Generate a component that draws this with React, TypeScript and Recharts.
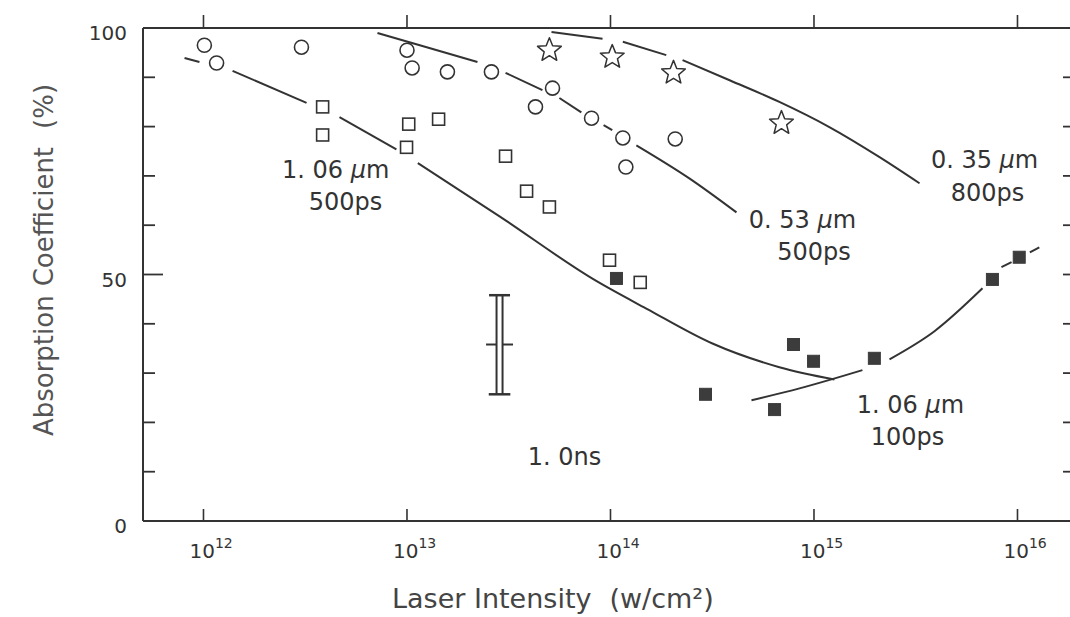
import React from 'react';
import { ComposedChart, Line, Scatter, XAxis, YAxis, ReferenceLine } from 'recharts';

// intensity in W/cm², absorption coefficient in %
const openCircles = [
  { x: 1.01e12, y: 96.5 }, { x: 1.16e12, y: 92.9 }, { x: 3.03e12, y: 96.1 },
  { x: 1.0e13, y: 95.5 }, { x: 1.06e13, y: 91.9 }, { x: 1.58e13, y: 91.1 },
  { x: 2.6e13, y: 91.1 }, { x: 5.19e13, y: 87.8 }, { x: 4.28e13, y: 84.0 },
  { x: 8.07e13, y: 81.7 }, { x: 1.15e14, y: 77.7 }, { x: 1.19e14, y: 71.8 },
  { x: 2.08e14, y: 77.5 },
];
const stars = [
  { x: 5.01e13, y: 95.5 }, { x: 1.02e14, y: 94.1 }, { x: 2.04e14, y: 90.9 }, { x: 6.92e14, y: 80.7 },
];
const openSquares = [
  { x: 3.85e12, y: 84.0 }, { x: 3.85e12, y: 78.3 }, { x: 1.02e13, y: 80.5 },
  { x: 1.43e13, y: 81.5 }, { x: 9.95e12, y: 75.8 }, { x: 3.05e13, y: 74.0 },
  { x: 3.87e13, y: 66.9 }, { x: 5.01e13, y: 63.7 }, { x: 9.89e13, y: 52.9 },
  { x: 1.4e14, y: 48.4 },
];
const filledSquares = [
  { x: 1.07e14, y: 49.2 }, { x: 2.93e14, y: 25.7 }, { x: 6.4e14, y: 22.6 },
  { x: 7.93e14, y: 35.8 }, { x: 9.95e14, y: 32.4 }, { x: 1.98e15, y: 33.0 },
  { x: 7.53e15, y: 49.0 }, { x: 1.02e16, y: 53.5 },
];

// fitted curves, broken where they pass the markers
const curve106_500ps = [
  [{ x: 8.07e11, y: 93.9 }, { x: 9.55e11, y: 93.1 }],
  [{ x: 1.39e12, y: 91.3 }, { x: 3.21e12, y: 84.8 }],
  [{ x: 4.66e12, y: 81.9 }, { x: 8.87e12, y: 75.4 }],
  [
    { x: 1.13e13, y: 72.6 }, { x: 2.85e13, y: 61.8 }, { x: 8.43e13, y: 48.8 },
    { x: 1.5e14, y: 43.1 }, { x: 3.17e14, y: 36.0 }, { x: 6.76e14, y: 31.2 },
    { x: 1.26e15, y: 28.7 },
  ],
];
const curve053_500ps = [
  [{ x: 7.16e12, y: 99.0 }, { x: 1.25e13, y: 96.1 }, { x: 2.22e13, y: 93.1 }],
  [{ x: 3.05e13, y: 90.9 }, { x: 4.63e13, y: 87.4 }],
  [{ x: 5.61e13, y: 85.8 }, { x: 7.19e13, y: 82.9 }],
  [{ x: 9.25e13, y: 80.3 }, { x: 1.02e14, y: 79.3 }],
  [{ x: 1.34e14, y: 76.2 }, { x: 2.44e14, y: 69.5 }, { x: 4.16e14, y: 62.6 }],
];
const curve035_800ps = [
  [{ x: 5.13e13, y: 99.2 }, { x: 9.14e13, y: 97.8 }],
  [{ x: 1.15e14, y: 97.2 }, { x: 1.88e14, y: 94.5 }],
  [
    { x: 2.26e14, y: 93.5 }, { x: 3.85e14, y: 89.4 }, { x: 6.76e14, y: 85.0 },
    { x: 1.19e15, y: 79.9 }, { x: 2.1e15, y: 73.8 }, { x: 3.3e15, y: 68.5 },
  ],
];
const curve106_100ps = [
  [{ x: 4.93e14, y: 24.5 }, { x: 8.49e14, y: 26.9 }, { x: 1.73e15, y: 30.6 }],
  [{ x: 2.35e15, y: 32.8 }, { x: 3.91e15, y: 38.5 }, { x: 6.73e15, y: 47.2 }],
  [{ x: 8.34e15, y: 51.5 }, { x: 9.35e15, y: 52.5 }],
  [{ x: 1.15e16, y: 54.5 }, { x: 1.28e16, y: 55.5 }],
];

const notes = [
  { x: 4.46e12, y: 71.2, text: '1. 06 μm' },
  { x: 4.99e12, y: 64.7, text: '500ps' },
  { x: 8.77e14, y: 61.0, text: '0. 53 μm' },
  { x: 1.0e15, y: 54.5, text: '500ps' },
  { x: 6.89e15, y: 73.2, text: '0. 35 μm' },
  { x: 7.13e15, y: 66.5, text: '800ps' },
  { x: 2.98e15, y: 23.5, text: '1. 06 μm' },
  { x: 2.88e15, y: 17.0, text: '100ps' },
  { x: 5.94e13, y: 12.9, text: '1. 0ns' },
];

const errorBar = { x: 2.85e13, low: 25.7, mid: 35.8, high: 45.8 };

const xTicks = [1e12, 1e13, 1e14, 1e15, 1e16];
const yTicks = [0, 10, 20, 30, 40, 50, 60, 70, 80, 90, 100];
const rightTicks = [10, 20, 30, 40, 50, 60, 70, 80, 90];
const xDomain = [5.044e11, 1.853e16];

const ink = '#333';
const font = "'DejaVu Sans', Verdana, sans-serif";

const Circle = ({ cx, cy }: any) => (
  <circle cx={cx} cy={cy} r={7} fill="#fff" stroke={ink} strokeWidth={1.6} />
);
const OpenSquare = ({ cx, cy }: any) => (
  <rect x={cx - 6} y={cy - 6} width={12} height={12} fill="#fff" stroke={ink} strokeWidth={1.6} />
);
const FilledSquare = ({ cx, cy }: any) => (
  <rect x={cx - 6} y={cy - 6} width={12} height={12} fill="#3c3c3c" stroke="#3c3c3c" strokeWidth={1} />
);
const Star = ({ cx, cy }: any) => {
  const pts: string[] = [];
  for (let i = 0; i < 10; i++) {
    const r = i % 2 === 0 ? 12.5 : 5.5;
    const a = -Math.PI / 2 + (i * Math.PI) / 5;
    pts.push(`${cx + r * Math.cos(a)},${cy + r * Math.sin(a)}`);
  }
  return <polygon points={pts.join(' ')} fill="#fff" stroke={ink} strokeWidth={1.5} strokeLinejoin="round" />;
};

const Note = ({ cx, cy, payload }: any) => {
  const [pre, post] = payload.text.split('μ');
  return (
    <text x={cx} y={cy + 8} textAnchor="middle" fontSize={24} fill={ink} fontFamily={font}>
      {pre}
      {post !== undefined && <tspan fontStyle="italic">μ</tspan>}
      {post}
    </text>
  );
};

const BottomTick = ({ x, y, payload }: any) => (
  <g>
    <line x1={x} y1={y} x2={x} y2={y - 12} stroke={ink} strokeWidth={1.6} />
    <text x={x - 14} y={y + 37} fontSize={20} fill={ink} fontFamily={font}>
      10
      <tspan dy={-10} fontSize={14}>
        {Math.round(Math.log10(payload.value))}
      </tspan>
    </text>
  </g>
);
const TopTick = ({ x, y }: any) => (
  <line x1={x} y1={y} x2={x} y2={y - 13} stroke={ink} strokeWidth={1.6} />
);
const LeftTick = ({ x, y, payload }: any) => {
  const v = payload.value;
  const labelled = v === 0 || v === 50 || v === 100;
  return (
    <g>
      {v > 0 && v < 100 && (
        <line x1={x} y1={y} x2={x + (v === 50 ? 20 : 12)} y2={y} stroke={ink} strokeWidth={1.8} />
      )}
      {labelled && (
        <text x={x - 16} y={y + 12} textAnchor="end" fontSize={20} fill={ink} fontFamily={font}>
          {v}
        </text>
      )}
    </g>
  );
};

const XTitle = ({ viewBox }: any) => (
  <text x={viewBox.x + 249} y={viewBox.y + 87} fontSize={27} fill="#444" fontFamily={font}>
    Laser Intensity<tspan dx={18}>(w/cm²)</tspan>
  </text>
);
const YTitle = () => (
  <text
    x={45}
    y={252}
    transform="rotate(-90 45 252)"
    textAnchor="middle"
    fontSize={26}
    fill="#555"
    fontFamily={font}
  >
    Absorption<tspan dx={9}>Coefficient</tspan>
    <tspan dx={18}>(%)</tspan>
  </text>
);

const curves = [curve106_500ps, curve053_500ps, curve035_800ps, curve106_100ps];

export default function App() {
  return (
    <div
      style={{
        position: 'fixed',
        left: 0,
        top: 0,
        width: 1070,
        height: 617,
        overflow: 'hidden',
        background: '#fff',
      }}
    >
      <div style={{ position: 'absolute', left: 8, top: 8, width: 1064, height: 609 }}>
        <ComposedChart width={1064} height={609} margin={{ top: 0, right: 0, bottom: 0, left: 0 }}>
          <XAxis
            dataKey="x"
            type="number"
            scale="log"
            domain={xDomain}
            allowDataOverflow
            ticks={xTicks}
            interval={0}
            height={96}
            tickSize={0}
            tickMargin={0}
            tick={<BottomTick />}
            axisLine={{ stroke: ink, strokeWidth: 2 }}
            label={<XTitle />}
          />
          <XAxis
            xAxisId="t"
            orientation="top"
            dataKey="x"
            type="number"
            scale="log"
            domain={xDomain}
            allowDataOverflow
            ticks={xTicks}
            interval={0}
            height={20}
            tickSize={0}
            tickMargin={0}
            tick={<TopTick />}
            axisLine={{ stroke: ink, strokeWidth: 2 }}
          />
          <YAxis
            dataKey="y"
            type="number"
            domain={[0, 100]}
            ticks={yTicks}
            interval={0}
            width={135}
            tickSize={0}
            tickMargin={0}
            tick={<LeftTick />}
            axisLine={{ stroke: ink, strokeWidth: 2 }}
            label={<YTitle />}
          />

          {curves.map((segments, i) =>
            segments.map((seg, j) => (
              <Line
                key={`c${i}-${j}`}
                data={seg}
                dataKey="y"
                type="monotone"
                stroke={ink}
                strokeWidth={2}
                dot={false}
                activeDot={false}
                isAnimationActive={false}
              />
            )),
          )}

          {rightTicks.map((v) => (
            <ReferenceLine
              key={`rt${v}`}
              segment={[{ x: xDomain[1] / 1.107, y: v }, { x: xDomain[1], y: v }]}
              stroke={ink}
              strokeWidth={1.8}
            />
          ))}

          <ReferenceLine
            segment={[{ x: errorBar.x, y: errorBar.low }, { x: errorBar.x, y: errorBar.high }]}
            stroke={ink}
            strokeWidth={8}
          />
          <ReferenceLine
            segment={[{ x: errorBar.x / 1.165, y: errorBar.mid }, { x: errorBar.x * 1.165, y: errorBar.mid }]}
            stroke={ink}
            strokeWidth={2}
          />
          <ReferenceLine
            segment={[{ x: errorBar.x, y: errorBar.low }, { x: errorBar.x, y: errorBar.high }]}
            stroke="#fff"
            strokeWidth={4}
          />
          <ReferenceLine
            segment={[{ x: errorBar.x / 1.126, y: errorBar.high }, { x: errorBar.x * 1.126, y: errorBar.high }]}
            stroke={ink}
            strokeWidth={2.5}
          />
          <ReferenceLine
            segment={[{ x: errorBar.x / 1.13, y: errorBar.low }, { x: errorBar.x * 1.13, y: errorBar.low }]}
            stroke={ink}
            strokeWidth={2.5}
          />

          <Scatter data={openCircles} dataKey="y" shape={<Circle />} isAnimationActive={false} />
          <Scatter data={openSquares} dataKey="y" shape={<OpenSquare />} isAnimationActive={false} />
          <Scatter data={stars} dataKey="y" shape={<Star />} isAnimationActive={false} />
          <Scatter data={filledSquares} dataKey="y" shape={<FilledSquare />} isAnimationActive={false} />
          <Scatter data={notes} dataKey="y" shape={<Note />} isAnimationActive={false} />
        </ComposedChart>
      </div>
    </div>
  );
}
